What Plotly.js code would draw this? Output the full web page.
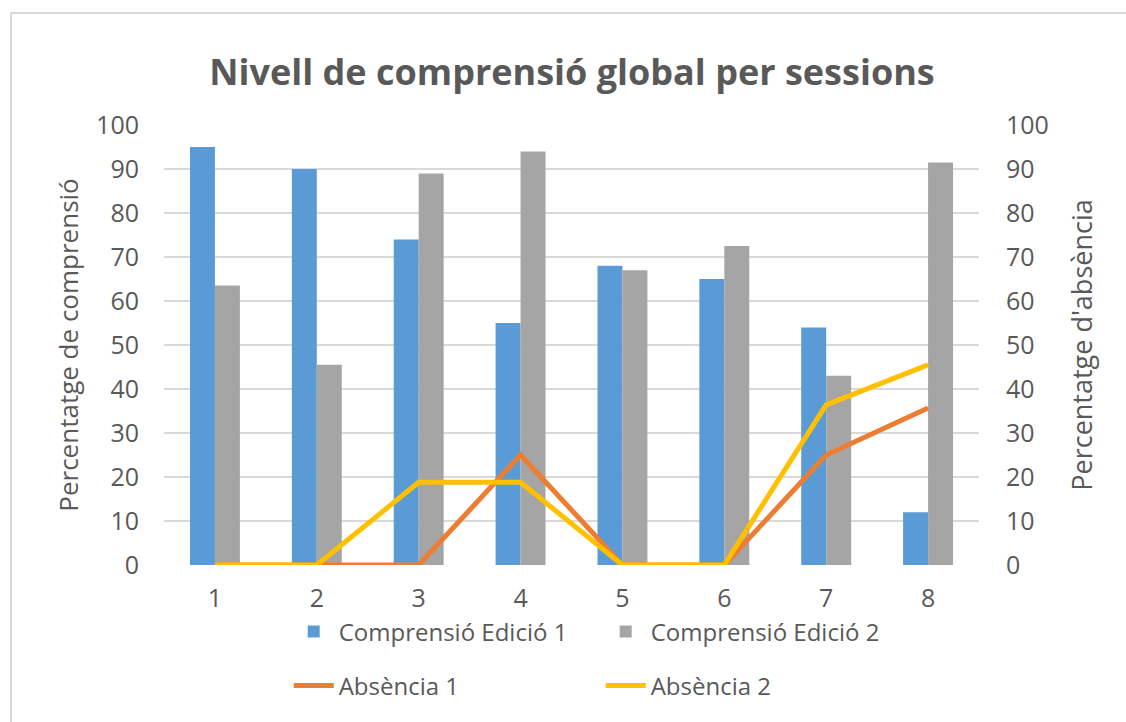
<!DOCTYPE html>
<html>
<head>
<meta charset="utf-8">
<script src="https://cdn.plot.ly/plotly-3.0.1.min.js"></script>
<style>
  html, body { margin: 0; padding: 0; background: #ffffff; }
  #wrap { position: relative; width: 1126px; height: 722px; }
  #chart { position: absolute; left: 0; top: 0; width: 1126px; height: 722px; }
  #frame { position: absolute; left: 10px; top: 12px; width: 1120px; height: 714px;
           border: 2px solid #d9d9d9; box-sizing: border-box; pointer-events: none; }
</style>
</head>
<body>
<div id="wrap">
  <div id="chart"></div>
  <div id="frame"></div>
</div>
<script>
const sessions = ["1", "2", "3", "4", "5", "6", "7", "8"];
const comprensioEdicio1 = [95, 90, 74, 55, 68, 65, 54, 12];
const comprensioEdicio2 = [63.5, 45.5, 89, 94, 67, 72.5, 43, 91.5];
const absencia1 = [0, 0, 0, 25, 0, 0, 25, 35.7];
const absencia2 = [0, 0, 18.8, 18.8, 0, 0, 36.4, 45.5];
const yTicks = [0, 10, 20, 30, 40, 50, 60, 70, 80, 90, 100];

const FONT = "Open Sans, Liberation Sans, sans-serif";
const TXT = "#595959";

const traces = [
  { type: "bar", name: "Comprensió Edició 1", x: sessions, y: comprensioEdicio1,
    marker: { color: "#5b9bd5" }, legend: "legend", hoverinfo: "x+y" },
  { type: "bar", name: "Comprensió Edició 2", x: sessions, y: comprensioEdicio2,
    marker: { color: "#a5a5a5" }, legend: "legend", hoverinfo: "x+y" },
  { type: "scatter", mode: "lines", name: "Absència 1", x: sessions, y: absencia1,
    yaxis: "y2", line: { color: "#ed7d31", width: 5 }, legend: "legend2" },
  { type: "scatter", mode: "lines", name: "Absència 2", x: sessions, y: absencia2,
    yaxis: "y2", line: { color: "#ffc000", width: 5 }, legend: "legend2" }
];

const layout = {
  width: 1126, height: 722,
  margin: { l: 164, r: 147, t: 125, b: 157 },
  paper_bgcolor: "#ffffff", plot_bgcolor: "#ffffff",
  font: { family: FONT, color: TXT, size: 24 },
  title: { text: "<b>Nivell de comprensió global per sessions</b>",
           font: { family: FONT, size: 36, color: TXT },
           x: 0.508, xanchor: "center", y: 0.9, yanchor: "middle", yref: "container" },
  barmode: "group", bargap: 0.51, bargroupgap: 0,
  showlegend: true,
  xaxis: { type: "category", showgrid: false, zeroline: false, showline: false,
           ticks: "", tickfont: { size: 25, color: TXT }, ticklabelstandoff: 16 },
  yaxis: { range: [0, 100], tickvals: yTicks, showgrid: true, gridcolor: "#d9d9d9", gridwidth: 1.5,
           zeroline: false, showline: false, ticks: "", tickfont: { size: 25, color: TXT },
           ticklabelstandoff: 24,
           title: { text: "Percentatge de comprensió", font: { size: 26, color: TXT }, standoff: 10 } },
  yaxis2: { range: [0, 100], tickvals: yTicks, overlaying: "y", side: "right", showgrid: false,
            zeroline: false, showline: false, ticks: "", tickfont: { size: 25, color: TXT },
            ticklabelstandoff: 26,
            title: { text: "Percentatge d'absència", font: { size: 27, color: TXT }, standoff: 25 } },
  legend: { orientation: "h", x: 0.153, xanchor: "left", y: -0.152, yanchor: "middle",
            font: { size: 24, color: TXT }, entrywidth: 257, entrywidthmode: "pixels",
            bgcolor: "rgba(0,0,0,0)", itemwidth: 40, traceorder: "normal" },
  legend2: { orientation: "h", x: 0.153, xanchor: "left", y: -0.275, yanchor: "middle",
             font: { size: 24, color: TXT }, entrywidth: 257, entrywidthmode: "pixels",
             bgcolor: "rgba(0,0,0,0)", itemwidth: 40, traceorder: "normal" }
};

Plotly.newPlot("chart", traces, layout, { displayModeBar: false, staticPlot: true });
</script>
</body>
</html>
